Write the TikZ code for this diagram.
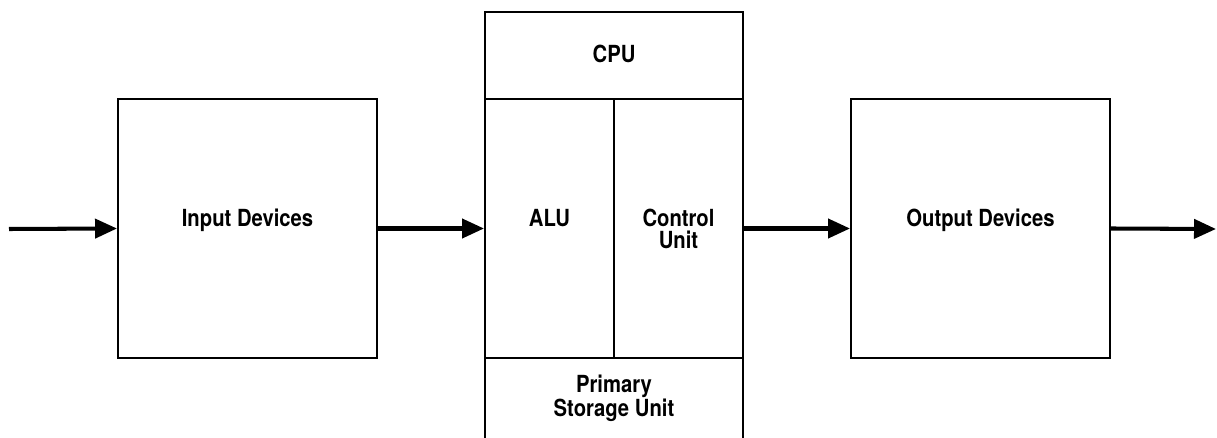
\documentclass[tikz,border=0pt]{standalone}
\usepackage{fontspec}
\newfontfamily\lblfont{TeX Gyre Heros}[FakeStretch=0.86]
\usetikzlibrary{arrows.meta,positioning}

\begin{document}
\begin{tikzpicture}[x=0.02cm, y=-0.02cm,
    blk/.style={draw, line width=1.1pt, inner sep=0pt, minimum width=#1},
    lbl/.style={anchor=base, align=center, inner sep=0pt,
                font=\lblfont\bfseries\fontsize{13.4}{12.8}\selectfont},
    flow/.style={line width=2.3pt, -{Triangle[length=0.44cm, width=0.38cm]}}]
  \useasboundingbox (0,0) rectangle (1217,438);
  \clip (0,0) rectangle (1217,438);
  %% outer boxes
  \node[blk=259*0.02cm, minimum height=259*0.02cm] (indev) at (247.5,228.5) {};
  \node[blk=259*0.02cm, minimum height=259*0.02cm] (outdev) at (980.5,228.5) {};
  %% CPU split into its parts
  \node[blk=258*0.02cm, minimum height=87*0.02cm] (cpu) at (614,55.5) {};
  \node[blk=129*0.02cm, minimum height=259*0.02cm] (alu) at (549.5,228.5) {};
  \node[blk=129*0.02cm, minimum height=259*0.02cm] (ctrl) at (678.5,228.5) {};
  \node[blk=258*0.02cm, minimum height=100*0.02cm] (store) at (614,408) {};
  %% labels (base = last line)
  \node[lbl] (indevtxt) at (247.5,227) {Input Devices};
  \node[lbl] (outdevtxt) at (980.5,227) {Output Devices};
  \node[lbl] (cputxt) at (614,63) {CPU};
  \node[lbl] (alutxt) at (549.5,227) {ALU};
  \node[lbl] (ctrltxt) at (678.5,249) {Control\\Unit};
  \node[lbl] (storetxt) at (614,417) {Primary\\Storage Unit};
  %% data flow
  \coordinate (src) at (9,229);
  \coordinate (sink) at (1216,229);
  \draw[flow] (src) -- (indev.west);
  \draw[flow] (indev.east) -- (alu.west);
  \draw[flow] (ctrl.east) -- (outdev.west);
  \draw[flow] (outdev.east) -- (sink);
\end{tikzpicture}
\end{document}
